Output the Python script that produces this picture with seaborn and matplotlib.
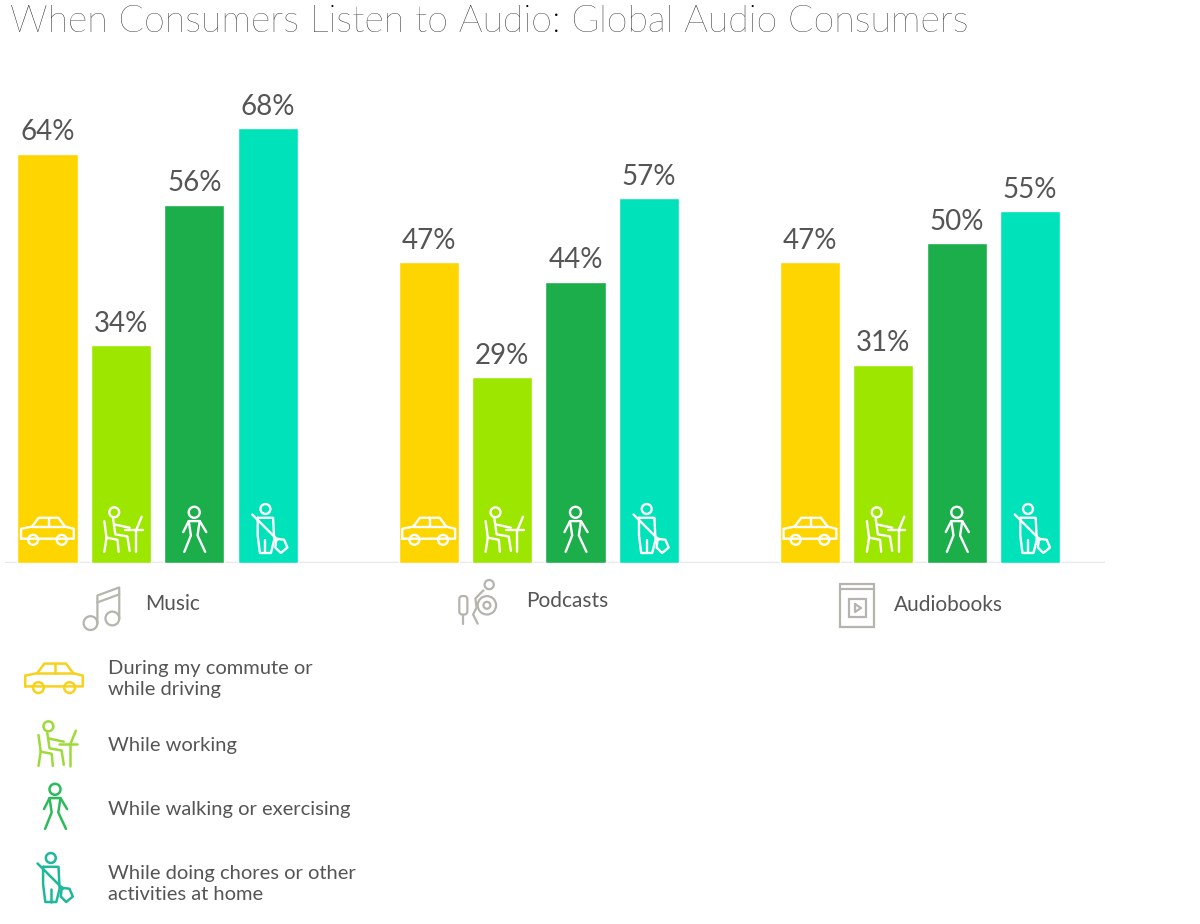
import numpy as np
import pandas as pd
import matplotlib
matplotlib.use("Agg")
import matplotlib.pyplot as plt
from matplotlib.patches import Circle, FancyBboxPatch, Rectangle
import seaborn as sns

# data
categories = ["Music", "Podcasts", "Audiobooks"]
settings = ["During my commute or\nwhile driving", "While working",
            "While walking or exercising", "While doing chores or other\nactivities at home"]
commute = [64, 47, 47]
working = [34, 29, 31]
walking = [56, 44, 50]
chores = [68, 57, 55]
colors = ["#FFD500", "#9DE600", "#1BAE4A", "#00E2BA"]
legend_colors = ["#F6D21C", "#9EDB3A", "#2DBA5A", "#1FB89A"]

rows = []
for s, vals in zip(settings, [commute, working, walking, chores]):
    for c, v in zip(categories, vals):
        rows.append({"category": c, "setting": s, "value": v})
df = pd.DataFrame(rows)

sns.set_style("white")
plt.rcParams["font.family"] = ["Lato", "DejaVu Sans"]

W, H = 1200, 924
fig = plt.figure(figsize=(12, 9.24), dpi=100)
ax = fig.add_axes([5 / W, 1 - 563 / H, 1100 / W, 483 / H])
ax.patch.set_alpha(0)

sns.barplot(data=df, x="category", y="value", hue="setting", order=categories,
            hue_order=settings, palette=colors, width=0.77, gap=0.18,
            saturation=1, legend=False, ax=ax)
ax.set_xlim(-0.40, 2.485)
ax.set_ylim(0, 75.5)
ax.axhline(0, color="#E8E8E8", lw=2.5, zorder=0)
for sp in ax.spines.values():
    sp.set_visible(False)
ax.set_xticks([])
ax.set_yticks([])
ax.set_xlabel("")
ax.set_ylabel("")

for cont in ax.containers:
    ax.bar_label(cont, fmt="{:.0f}%", padding=6, fontsize=20, color="#555555")

# overlay in pixel coordinates for the decorations
ov = fig.add_axes([0, 0, 1, 1], zorder=5)
ov.set_xlim(0, W)
ov.set_ylim(H, 0)
ov.axis("off")
ov.patch.set_alpha(0)


def line(pts, cx, cy, s, col, lw):
    p = np.array(pts, dtype=float) * s
    ov.plot(p[:, 0] + cx, p[:, 1] + cy, color=col, lw=lw, solid_capstyle="round",
            solid_joinstyle="round")


def circ(x, y, r, cx, cy, s, col, lw):
    ov.add_patch(Circle((cx + x * s, cy + y * s), r * s, fill=False, ec=col, lw=lw))


def car(cx, cy, col, s=1.0, lw=1.8):
    line([(-24, 7), (-24, -2), (-14, -4), (-8, -12), (10, -12), (16, -4),
          (24, -2), (24, 7), (-24, 7)], cx, cy, s, col, lw)
    line([(1, -12), (1, -4)], cx, cy, s, col, lw)
    line([(-14, -4), (16, -4)], cx, cy, s, col, lw)
    circ(-13, 8, 4.5, cx, cy, s, col, lw)
    circ(13, 8, 4.5, cx, cy, s, col, lw)


def worker(cx, cy, col, s=1.0, lw=1.8):
    circ(-6, -17, 4.5, cx, cy, s, col, lw)
    line([(-7, -11), (-5, 3), (6, 5), (8, 18)], cx, cy, s, col, lw)
    line([(-15, -9), (-13, 6), (-15, 19)], cx, cy, s, col, lw)
    line([(-13, 6), (-3, 8), (-2, 19)], cx, cy, s, col, lw)
    line([(-6, -6), (8, -3)], cx, cy, s, col, lw)
    line([(4, -1), (20, -1)], cx, cy, s, col, lw)
    line([(14, -1), (14, 19)], cx, cy, s, col, lw)
    line([(14, -1), (19, -13)], cx, cy, s, col, lw)


def walker(cx, cy, col, s=1.0, lw=1.8):
    circ(0, -17, 5, cx, cy, s, col, lw)
    line([(-10, 1), (-5, -9), (5, -9), (11, 1)], cx, cy, s, col, lw)
    line([(-5, -9), (-3, 4), (-9, 19)], cx, cy, s, col, lw)
    line([(5, -9), (3, 4), (10, 19)], cx, cy, s, col, lw)


def chores_icon(cx, cy, col, s=1.0, lw=1.8):
    circ(-2, -20, 4.5, cx, cy, s, col, lw)
    line([(-9, -12), (5, -12), (6, 8), (3, 20), (-7, 20), (-9, 4), (-9, -12)],
         cx, cy, s, col, lw)
    line([(-2, 8), (-2, 20)], cx, cy, s, col, lw)
    line([(-14, -15), (9, 8)], cx, cy, s, col, lw)
    line([(8, 7), (15, 8), (18, 15), (12, 20), (7, 15), (8, 7)], cx, cy, s, col, lw)


def music_icon(cx, cy, col, s=1.0, lw=1.6):
    circ(-10, 14, 6, cx, cy, s, col, lw)
    circ(9, 10, 6, cx, cy, s, col, lw)
    line([(-4, 14), (-4, -10), (15, -17), (15, 10)], cx, cy, s, col, lw)
    line([(-4, -4), (15, -11)], cx, cy, s, col, lw)


def podcast_icon(cx, cy, col, s=1.0, lw=1.6):
    ov.add_patch(FancyBboxPatch((cx - 18 * s, cy - 6 * s), 7 * s, 16 * s,
                                boxstyle="round,pad=0,rounding_size=3", fill=False,
                                ec=col, lw=lw))
    line([(-14.5, 10), (-14.5, 18)], cx, cy, s, col, lw)
    circ(6, 2, 8, cx, cy, s, col, lw)
    circ(6, 2, 3, cx, cy, s, col, lw)
    circ(8, -16, 4, cx, cy, s, col, lw)
    line([(3, -11), (-4, -4), (-3, 4), (-6, 10), (-2, 18)], cx, cy, s, col, lw)


def book_icon(cx, cy, col, s=1.0, lw=1.6):
    ov.add_patch(Rectangle((cx - 17 * s, cy - 21 * s), 34 * s, 43 * s, fill=False,
                           ec=col, lw=lw))
    line([(-17, -16), (17, -16)], cx, cy, s, col, lw)
    ov.add_patch(Rectangle((cx - 8 * s, cy - 6 * s), 17 * s, 18 * s, fill=False,
                           ec=col, lw=lw))
    line([(-2, -1), (-2, 7), (4, 3), (-2, -1)], cx, cy, s, col, lw)


icons = [car, worker, walker, chores_icon]

# white icons at the foot of every bar
fig.canvas.draw()
for cont, icon in zip(ax.containers, icons):
    for bar in cont:
        x = bar.get_x() + bar.get_width() / 2
        dx, dy = ax.transData.transform((x, 0))
        icon(dx, H - dy - 32, "white", s=1.1, lw=1.7)

# category labels
cat_icons = [music_icon, podcast_icon, book_icon]
cat_icon_xy = [(102, 607), (480, 603), (857, 605)]
cat_text_xy = [(145, 604), (526, 601), (894, 605)]
for c, ic, (ix, iy), (tx, ty) in zip(categories, cat_icons, cat_icon_xy, cat_text_xy):
    ic(ix, iy, "#B5B5AE", s=1.15 if ic is not book_icon else 1.0)
    ov.text(tx, ty, c, fontsize=15, color="#555555", va="center", ha="left")

# legend
leg_icon_xy = [(54, 678), (55, 745), (55, 808), (53, 880)]
leg_text_y = [679, 746, 810, 884]
for s, col, icon, (ix, iy), ty in zip(settings, legend_colors, icons, leg_icon_xy,
                                      leg_text_y):
    icon(ix, iy, col, s=1.2 if icon is car else 1.1, lw=1.8)
    ov.text(108, ty, s, fontsize=14.5, color="#555555", va="center", ha="left",
            linespacing=1.3)

ov.text(10, 22, "When Consumers Listen to Audio: Global Audio Consumers",
        fontsize=27, color="black", va="center", ha="left", fontweight="light")

fig.savefig("out.png", dpi=100)
